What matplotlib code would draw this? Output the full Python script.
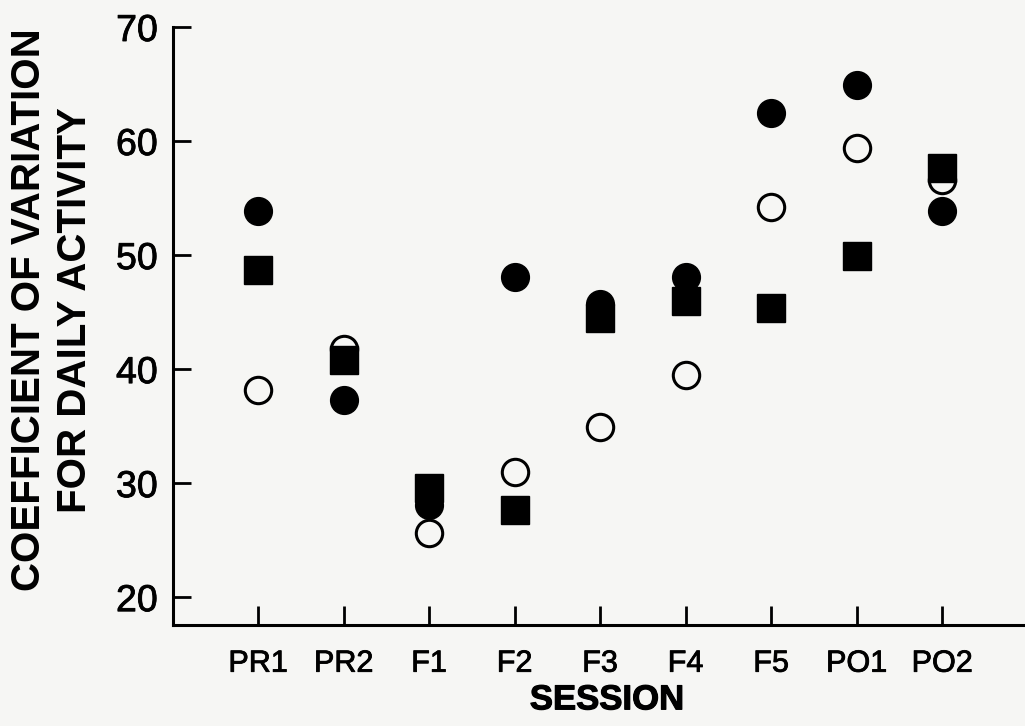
import numpy as np
import matplotlib
matplotlib.use("Agg")
import matplotlib.pyplot as plt
import matplotlib.patheffects as pe

plt.rcParams['font.family'] = ['Liberation Sans', 'DejaVu Sans']

# sessions along the x axis
sessions = ["PR1", "PR2", "F1", "F2", "F3", "F4", "F5", "PO1", "PO2"]

# coefficient of variation, one list per symbol
filled_circle = [53.9, 37.3, 28.1, 48.1, 45.7, 48.1, 62.5, 64.9, 53.9]
filled_square = [48.7, 40.8, 29.6, 27.6, 44.5, 46.0, 45.4, 49.9, 57.6]
open_circle = [38.2, 41.8, 25.6, 31.0, 34.9, 39.5, 54.2, 59.4, 56.6]

yticks = [20, 30, 40, 50, 60, 70]

bg = '#f6f6f4'
fig = plt.figure(figsize=(10.25, 7.26), dpi=100, facecolor=bg)
ax = fig.add_axes([0.1688, 0.139, 0.8312, 0.8238], facecolor=bg)

x = np.arange(len(sessions))

ax.plot(x, filled_circle, 'o', color='black', ms=20, zorder=2, linestyle='none')
ax.plot(x, open_circle, 'o', mfc=bg, mec='black', mew=2.2, ms=19,
        zorder=3, linestyle='none')
ax.plot(x, filled_square, 's', color='black', ms=19.5, zorder=4, linestyle='none')

ax.set_xlim(-0.994, 8.97)
ax.set_ylim(17.55, 70)

ax.spines['top'].set_visible(False)
ax.spines['right'].set_visible(False)
ax.spines['left'].set_bounds(17.55, 70)
for s in ('left', 'bottom'):
    ax.spines[s].set_linewidth(2.2)

ax.set_xticks(x)
ax.set_xticklabels(sessions)
ax.set_yticks(yticks)
ax.tick_params(axis='both', direction='in', width=2.0, color='black')
ax.tick_params(axis='y', length=13, pad=11, labelsize=27)
ax.tick_params(axis='x', length=14, pad=17, labelsize=22)

# slightly heavier strokes, like the stencil lettering
thick = [pe.withStroke(linewidth=0.6, foreground='black')]
for lab in ax.get_xticklabels() + ax.get_yticklabels():
    lab.set_path_effects(thick)

fig.text(0.5925, 0.036, "SESSION", ha='center', va='center',
         fontsize=25, fontweight='bold',
         path_effects=[pe.withStroke(linewidth=0.8, foreground='black')])
fig.text(0.028, 0.573, "COEFFICIENT OF VARIATION", rotation=90,
         ha='center', va='center', fontsize=29, fontweight='bold')
fig.text(0.073, 0.573, "FOR DAILY ACTIVITY", rotation=90,
         ha='center', va='center', fontsize=29, fontweight='bold')

fig.savefig("out.png", dpi=100, facecolor=bg)
